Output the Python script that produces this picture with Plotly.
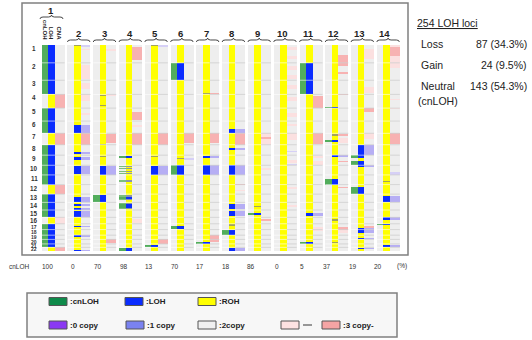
import plotly.graph_objects as go

# ---------------- data ----------------
CHROMS = [str(i) for i in range(1, 23)]
CHROM_LEN = [249, 243, 198, 191, 181, 171, 159, 146, 141, 135, 135, 133,
             115, 107, 102, 90, 81, 78, 59, 63, 48, 51]          # Mb
SAMPLES = [str(i) for i in range(1, 15)]
CNLOH_PCT = ["100", "0", "70", "98", "13", "70", "17", "18", "86", "0", "5", "37", "19", "20"]

# events: (sample, chromosome, start fraction, end fraction)
CN_LOH = [(1, c, 0.0, 1.0) for c in [1, 2, 3, 5, 6, 8, 9, 10, 11, 13, 14, 15, 17, 18, 19, 20, 21]] + [
    (3, 13, 0.15, 0.97),
    (4, 9, 0.04, 0.24), (4, 13, 0.3, 0.6), (4, 14, 0.25, 0.75), (4, 22, 0.25, 1.0),
    (5, 21, 0.3, 0.8),
    (6, 2, 0.0, 1.0), (6, 10, 0.0, 1.0), (6, 17, 0.3, 0.95),
    (7, 20, 0.5, 1.0),
    (8, 18, 0.0, 0.9),
    (9, 15, 0.35, 0.65),
    (11, 2, 0.0, 1.0), (11, 3, 0.0, 1.0), (11, 20, 0.5, 1.0),
    (12, 4, 0.9, 1.0), (12, 7, 0.58, 0.73), (12, 11, 0.45, 1.0),
    (13, 9, 0.0, 0.3), (13, 9, 0.53, 0.96), (13, 12, 0.2, 0.97),
    (14, 17, 0.05, 0.25),
]
LOSS_LOH = [
    (2, 6, 0.32, 1.0), (2, 8, 0.66, 0.92), (2, 9, 0.14, 0.47), (2, 10, 0.03, 0.89),
    (2, 13, 0.3, 0.9), (2, 14, 0.2, 0.45), (2, 14, 0.7, 0.97), (2, 15, 0.2, 0.9),
    (2, 17, 0.45, 0.58), (2, 19, 0.0, 0.4), (2, 21, 0.8, 1.0), (2, 22, 0.6, 0.9),
    (3, 10, 0.03, 0.99),
    (5, 10, 0.03, 0.99),
    (7, 9, 0.07, 0.3), (7, 10, 0.0, 1.0),
    (8, 6, 0.67, 0.95), (8, 8, 0.33, 0.5), (8, 10, 0.0, 1.0), (8, 14, 0.2, 0.9),
    (8, 15, 0.2, 0.85), (8, 22, 0.2, 0.9),
    (11, 15, 0.45, 0.75),
    (12, 9, 0.0, 0.2),
    (13, 8, 0.02, 0.97), (13, 10, 0.0, 0.2), (13, 17, 0.75, 1.0), (13, 18, 0.0, 0.65),
    (13, 19, 0.7, 0.9), (13, 22, 0.2, 0.5),
    (14, 13, 0.2, 1.0), (14, 16, 0.0, 0.4), (14, 21, 0.3, 1.0),
]
GAIN_STRONG = [
    (1, 4, 0.0, 1.0), (1, 7, 0.0, 1.0), (1, 12, 0.0, 1.0), (1, 22, 0.0, 1.0),
    (2, 7, 0.0, 1.0),
    (3, 7, 0.05, 0.85), (3, 20, 0.0, 0.8),
    (4, 1, 0.1, 0.85), (4, 5, 0.3, 0.9), (4, 7, 0.0, 1.0),
    (5, 7, 0.0, 1.0), (5, 20, 0.0, 1.0),
    (6, 7, 0.0, 0.85),
    (7, 3, 0.92, 1.0), (7, 7, 0.0, 0.85), (7, 19, 0.0, 1.0), (7, 20, 0.0, 0.5),
    (8, 7, 0.0, 1.0), (8, 11, 0.93, 1.0),
    (9, 7, 0.3, 0.5), (9, 16, 0.3, 0.5),
    (11, 4, 0.15, 1.0), (11, 7, 0.0, 0.9),
    (12, 1, 0.55, 1.0), (12, 2, 0.0, 0.2), (12, 2, 0.55, 0.62), (12, 3, 0.95, 1.0),
    (12, 7, 0.1, 0.2), (12, 9, 0.6, 0.7), (12, 12, 0.3, 0.4), (12, 17, 0.6, 1.0),
    (13, 5, 0.0, 0.3), (13, 17, 0.4, 0.9),
    (14, 1, 0.1, 0.6), (14, 7, 0.0, 0.9),
]
GAIN_LIGHT = [
    (1, 16, 0.0, 1.0),
    (2, 1, 0.2, 0.3), (2, 2, 0.1, 0.9), (2, 3, 0.2, 0.6), (2, 4, 0.0, 0.5), (2, 5, 0.4, 0.5),
    (3, 1, 0.2, 0.35), (3, 4, 0.0, 0.1),
    (4, 6, 0.3, 0.5), (4, 16, 0.3, 0.9),
    (8, 12, 0.55, 0.65),
    (9, 7, 0.0, 1.0), (9, 10, 0.3, 0.5),
    (10, 1, 0.1, 0.3), (10, 1, 0.6, 0.8), (10, 2, 0.2, 0.4), (10, 2, 0.7, 0.9),
    (10, 3, 0.3, 0.6), (10, 4, 0.2, 0.5), (10, 5, 0.4, 0.7), (10, 6, 0.2, 0.4),
    (10, 7, 0.0, 0.6), (10, 9, 0.5, 0.8), (10, 12, 0.3, 0.5), (10, 14, 0.4, 0.6),
    (11, 9, 0.1, 0.3), (11, 9, 0.6, 0.95), (11, 17, 0.5, 1.0), (11, 18, 0.0, 0.2),
    (12, 7, 0.4, 0.85), (12, 18, 0.0, 0.6),
    (13, 1, 0.2, 0.8), (13, 3, 0.5, 0.9), (13, 7, 0.0, 0.5),
    (14, 1, 0.0, 1.0), (14, 2, 0.0, 0.3), (14, 4, 0.3, 0.4), (14, 5, 0.0, 0.1),
]
CN_LOSS_ONLY = [
    (2, 1, 0.0, 0.1), (5, 1, 0.0, 0.1), (6, 9, 0.3, 0.5),
    (10, 8, 0.6, 0.7), (10, 9, 0.9, 1.0), (14, 10, 0.65, 1.0),
]
ROH_DARK = [
    (2, 1, 0.0, 0.08), (3, 4, 0.05, 0.15), (3, 4, 0.75, 0.85), (3, 7, 0.9, 1.0),
    (3, 9, 0.1, 0.2), (5, 1, 0.0, 0.08), (5, 8, 0.95, 1.0), (5, 9, 0.1, 0.2),
    (6, 9, 0.3, 0.4), (7, 3, 0.9, 1.0), (8, 17, 0.1, 0.3), (9, 14, 0.5, 0.65),
    (12, 7, 0.1, 0.2), (12, 16, 0.2, 0.6), (12, 20, 0.5, 0.7), (14, 11, 0.6, 0.7),
]
MIXED = [
    (4, 10, 0.05, 0.15), (4, 10, 0.3, 0.42), (4, 10, 0.55, 0.65), (4, 10, 0.8, 0.9),
    (4, 11, 0.5, 0.7), (4, 13, 0.1, 0.3), (4, 13, 0.6, 0.75), (4, 14, 0.1, 0.25),
    (4, 14, 0.75, 0.9),
]
SUMMARY_LABELS = ["Loss", "Gain", "Neutral"]
SUMMARY_VALUES = ["87 (34.3%)", "24 (9.5%)", "143 (54.3%)"]

# ---------------- layout helpers ----------------
W, H = 532, 340
PAGE = 0              # body margin removed by post_script
TOP, BOT = 45, 251    # data area in page pixels
FONT = "Liberation Sans, Arial, sans-serif"
OFF = []
acc = 0
for L in CHROM_LEN:
    OFF.append(acc)
    acc += L
TOTAL = acc


def py(px):
    return (BOT - px) / (BOT - TOP)


S0, DS = 48.2, 25.78


def scol(k):
    return S0 + (k - 1) * DS


def colrange(k, col):
    s = scol(k)
    return {"cn": (s - 6.5, s), "roh": (s, s + 6.7), "cna": (s + 6.7, s + 16.5)}[col]


def gpos(c, f):
    return OFF[c - 1] + f * CHROM_LEN[c - 1]


fig = go.Figure()


def add_bars(events, col, color, minlen=11):
    xs, ys, bs, ws = [], [], [], []
    for (k, c, a, b) in events:
        x0, x1 = colrange(k, col)
        st, en = gpos(c, a), gpos(c, b)
        xs.append((x0 + x1) / 2)
        ws.append(x1 - x0)
        bs.append(st)
        ys.append(max(en - st, minlen))
    fig.add_trace(go.Bar(x=xs, y=ys, base=bs, width=ws,
                         marker=dict(color=color, line=dict(width=0)),
                         hoverinfo="skip", showlegend=False))


full = [(k, 1, 0.0, TOTAL / CHROM_LEN[0]) for k in range(1, 15)]
add_bars(full, "cn", "#eeeeee")
add_bars(full, "roh", "#ffff00")
add_bars(full, "cna", "#eeeeee")

GREEN = "#52ad5c"
BLUE = "#0a2cff"
LAV = "#b6aef4"
add_bars(GAIN_LIGHT, "cna", "#fbe0e0")
add_bars(GAIN_STRONG, "cna", "#f7b2b2")
add_bars(CN_LOSS_ONLY, "cna", "#d6d0f6")
add_bars(LOSS_LOH, "cna", LAV)
add_bars(CN_LOH, "cn", GREEN)
add_bars(CN_LOH, "roh", BLUE)
add_bars(LOSS_LOH, "roh", BLUE)
add_bars(MIXED, "cn", "#7cbf7c")
add_bars(MIXED, "roh", "#8a94a8")
add_bars(ROH_DARK, "roh", "#a2a25e")

# chromosome boundaries
wx, wy, gx, gy = [], [], [], []
for c in range(2, 23):
    b = OFF[c - 1]
    for k in range(1, 15):
        a0, a1 = colrange(k, "cn")[0], colrange(k, "roh")[1]
        wx += [a0, a1, None]
        wy += [b, b, None]
        c0, c1 = colrange(k, "cna")
        gx += [c0, c1, None]
        gy += [b, b, None]
fig.add_trace(go.Scatter(x=wx, y=wy, mode="lines", line=dict(color="rgba(255,255,255,0.75)", width=0.8),
                         hoverinfo="skip", showlegend=False))
fig.add_trace(go.Scatter(x=gx, y=gy, mode="lines", line=dict(color="#cfcfcf", width=0.8),
                         hoverinfo="skip", showlegend=False))

ann = []
shapes = []


def text(x, y, t, size, xanchor="center", color="#222", **kw):
    ann.append(dict(x=x, y=py(y), xref="x", yref="paper", text=t, showarrow=False,
                    xanchor=xanchor, yanchor=kw.pop("yanchor", "middle"),
                    font=dict(size=size, color=color, family=FONT), **kw))


# chromosome labels
for i, name in enumerate(CHROMS):
    yv = OFF[i] + min(49, CHROM_LEN[i] / 2)
    ann.append(dict(x=34, y=yv, xref="x", yref="y", text="<b>%s</b>" % name, showarrow=False,
                    font=dict(size=6.3 if i < 16 else 5.0, color="#333", family=FONT),
                    xanchor="center", yanchor="middle"))

# outer box
shapes.append(dict(type="rect", xref="x", yref="paper", x0=22, x1=408, y0=py(255), y1=py(3),
                   line=dict(color="#808080", width=1.5), fillcolor="rgba(0,0,0,0)", layer="above"))


def brace(x0, x1, ybase):
    xm = (x0 + x1) / 2
    p = py
    return ("M %f,%f Q %f,%f %f,%f L %f,%f Q %f,%f %f,%f Q %f,%f %f,%f L %f,%f Q %f,%f %f,%f" % (
        x0, p(ybase + 2), x0, p(ybase), x0 + 3, p(ybase),
        xm - 3, p(ybase), xm, p(ybase), xm, p(ybase - 2),
        xm, p(ybase), xm + 3, p(ybase),
        x1 - 3, p(ybase), x1, p(ybase), x1, p(ybase + 2)))


# sample headers
for k in range(1, 15):
    s = scol(k)
    if k == 1:
        text(51, 10, "<b>1</b>", 9.5)
        shapes.append(dict(type="path", xref="x", yref="paper", path=brace(40, 63, 17),
                           line=dict(color="#333", width=0.9)))
        for txt, xx in [("cnLOH", 45.2), ("LOH", 51.8), ("CNA", 58.5)]:
            text(xx, 42, "<b>%s</b>" % txt, 6, textangle=90, yanchor="bottom")
    else:
        xc = s + 5 - 0.3 * (k - 2)
        text(xc, 33, "<b>%s</b>" % SAMPLES[k - 1], 9.5)
        shapes.append(dict(type="path", xref="x", yref="paper", path=brace(s - 6.5, s + 16, 40),
                           line=dict(color="#333", width=0.9)))

# bottom cnLOH percentages
text(19, 266, "cnLOH", 6.5, color="#333")
for k in range(1, 15):
    text(47.5 + (k - 1) * 25.45, 266, CNLOH_PCT[k - 1], 6.5, color="#333")
text(402, 266, "(%)", 6.5, color="#333")

# summary panel
text(415, 23, "<u>254 LOH loci</u>", 10.5, xanchor="left")
for i, (lab, val) in enumerate(zip(SUMMARY_LABELS, SUMMARY_VALUES)):
    text(419, 44 + i * 21, lab, 10.5, xanchor="left")
    text(529, 44 + i * 21, val, 10.5, xanchor="right")
text(416, 101, "(cnLOH)", 10.5, xanchor="left")

# legend box
shapes.append(dict(type="rect", xref="x", yref="paper", x0=27, x1=397, y0=py(337), y1=py(293),
                   line=dict(color="#808080", width=1.5), fillcolor="#f7f7f7", layer="below"))
LEG = [
    (49, 301.5, "#0e8a4a", ":cnLOH"), (125, 301.5, "#0a2cff", ":LOH"), (198, 301.5, "#ffff00", ":ROH"),
    (49, 325, "#8a38f2", ":0 copy"), (126, 325, "#7a82f0", ":1 copy"), (198, 325, "#f0f0f0", ":2copy"),
    (322, 325, "#f4a4a4", ":3 copy-"),
]
for x0, yc, colr, txt in LEG:
    shapes.append(dict(type="rect", xref="x", yref="paper", x0=x0, x1=x0 + 18, y0=py(yc + 4), y1=py(yc - 4),
                       line=dict(color="#555", width=1), fillcolor=colr))
    text(x0 + 18.5, yc, "<b>%s</b>" % txt, 8, xanchor="left")
shapes.append(dict(type="rect", xref="x", yref="paper", x0=281, x1=299, y0=py(329), y1=py(321),
                   line=dict(color="#555", width=1), fillcolor="#fde2e2"))
shapes.append(dict(type="line", xref="x", yref="paper", x0=303, x1=312, y0=py(325), y1=py(325),
                   line=dict(color="#777", width=1.5)))

fig.update_layout(
    width=W, height=H, margin=dict(l=0, r=0, t=TOP - PAGE, b=H - (BOT - PAGE)),
    paper_bgcolor="white", plot_bgcolor="white", barmode="overlay", bargap=0,
    xaxis=dict(range=[PAGE, W + PAGE], visible=False, fixedrange=True),
    yaxis=dict(range=[TOTAL, 0], visible=False, fixedrange=True),
    showlegend=False, annotations=ann, shapes=shapes, hovermode=False,
)
fig.write_html("out.html", config={"displayModeBar": False, "staticPlot": True},
               post_script="document.body.style.margin='0';document.body.style.overflow='hidden';")
